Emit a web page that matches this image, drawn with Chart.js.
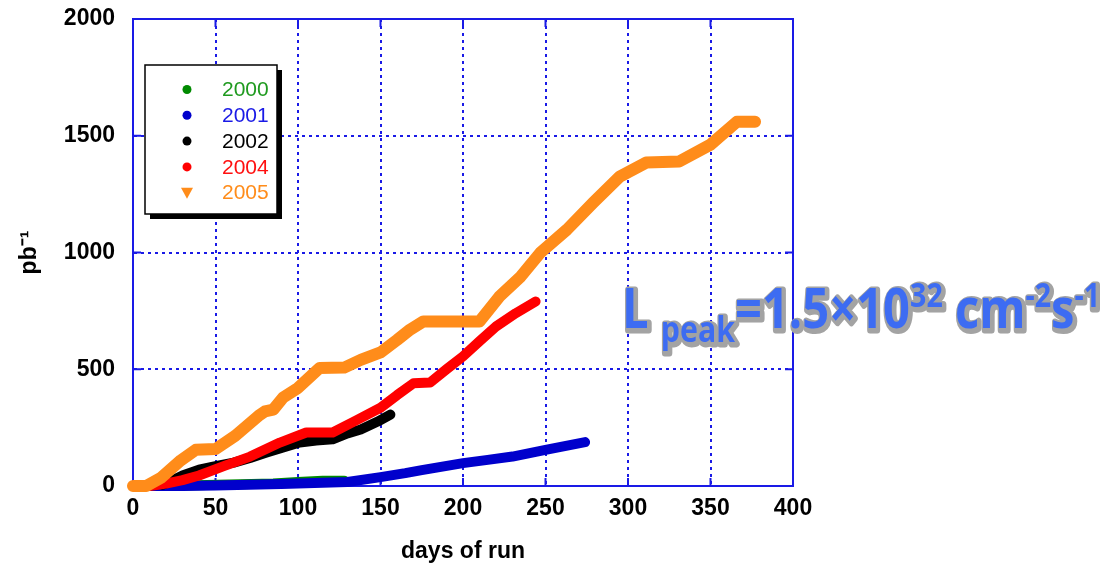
<!DOCTYPE html>
<html>
<head>
<meta charset="utf-8">
<script src="https://cdn.jsdelivr.net/npm/chart.js@4.4.1/dist/chart.umd.min.js"></script>
<style>
html, body { margin: 0; padding: 0; background: #fff; }
#wrap { width: 1117px; height: 566px; }
</style>
</head>
<body>
<div id="wrap"><canvas id="lumiChart" width="1117" height="566"></canvas></div>
<script>
// integrated luminosity per run year
const years = ["2000", "2001", "2002", "2004", "2005"];
const lineColors = ["#008a00", "#0000cc", "#000000", "#ff0000", "#ff8c1a"];
const textColors = ["#1f9a1f", "#1a1ae6", "#000000", "#ff1010", "#ff8c1a"];

const days2000 = [5, 25, 45, 65, 85, 100, 115, 128];
const pb2000 = [0, 1, 4, 8, 11, 17, 22, 23];

const days2001 = [12, 30, 50, 70, 90, 110, 130, 150, 165, 175, 200, 215, 230, 250, 274];
const pb2001 = [0, 0, 2, 5, 9, 13, 17, 38, 55, 68, 98, 112, 126, 155, 188];

const days2002 = [18, 24, 30, 40, 50, 61, 71, 81, 91, 101, 111, 121, 130, 138, 148, 156];
const pb2002 = [5, 25, 45, 70, 85, 100, 120, 143, 165, 186, 195, 200, 225, 242, 275, 306];

const days2004 = [10, 20, 30, 40, 55, 71, 89, 105, 121, 135, 150, 160, 170, 180, 190, 200, 210, 220, 232, 244];
const pb2004 = [0, 10, 25, 45, 85, 126, 186, 229, 229, 280, 335, 389, 440, 443, 500, 555, 620, 683, 740, 790];

const days2005 = [0, 8, 17, 29, 38, 50, 62, 76, 80, 85, 91, 100, 113, 128, 138, 150, 160, 168, 176, 210, 222, 235, 247, 263, 279, 295, 311, 331, 350, 366, 377];
const pb2005 = [0, 0, 35, 110, 155, 158, 215, 300, 320, 327, 379, 420, 505, 507, 540, 572, 625, 670, 705, 705, 811, 897, 1000, 1098, 1214, 1325, 1385, 1390, 1462, 1560, 1560];

const xTicks = [0, 50, 100, 150, 200, 250, 300, 350, 400];
const yTicks = [0, 500, 1000, 1500, 2000];

const allDays = [days2000, days2001, days2002, days2004, days2005];
const allPb = [pb2000, pb2001, pb2002, pb2004, pb2005];

const datasets = years.map((yr, i) => ({
    label: yr,
    data: allDays[i].map((d, j) => ({x: d, y: allPb[i][j]})),
    borderColor: lineColors[i],
    borderWidth: i === 4 ? 12 : 10,
    pointRadius: 0,
    tension: 0,
    fill: false,
    borderCapStyle: "round",
    borderJoinStyle: "round",
    clip: false,
    order: 5 - i
}));

const BLUE = "#1a1ae6";

// top/right frame plus the little inward tick marks
const framePlugin = {
    id: "frame",
    beforeDatasetsDraw(chart) {
        const {ctx, chartArea: a, scales: {x, y}} = chart;
        ctx.save();
        ctx.strokeStyle = BLUE;
        ctx.lineWidth = 2;
        ctx.beginPath();
        ctx.moveTo(a.left, a.top); ctx.lineTo(a.right, a.top); ctx.lineTo(a.right, a.bottom);
        xTicks.forEach(v => {
            const px = x.getPixelForValue(v);
            ctx.moveTo(px, a.bottom); ctx.lineTo(px, a.bottom - 8);
            ctx.moveTo(px, a.top); ctx.lineTo(px, a.top + 8);
        });
        yTicks.forEach(v => {
            const py = y.getPixelForValue(v);
            ctx.moveTo(a.left, py); ctx.lineTo(a.left + 8, py);
            ctx.moveTo(a.right, py); ctx.lineTo(a.right - 8, py);
        });
        ctx.stroke();
        ctx.restore();
    }
};

// boxed legend with drop shadow, drawn inside the plot
const legendPlugin = {
    id: "boxLegend",
    afterDatasetsDraw(chart) {
        const ctx = chart.ctx;
        const bx = 145, by = 65, bw = 132, bh = 149;
        ctx.save();
        ctx.fillStyle = "#000";
        ctx.fillRect(bx + 5, by + 5, bw, bh);
        ctx.fillStyle = "#fff";
        ctx.fillRect(bx, by, bw, bh);
        ctx.strokeStyle = "#000";
        ctx.lineWidth = 1.5;
        ctx.strokeRect(bx, by, bw, bh);
        ctx.font = '21px "Liberation Sans", Arial, sans-serif';
        ctx.textBaseline = "middle";
        ctx.textAlign = "left";
        years.forEach((yr, i) => {
            const ry = 89.5 + i * 25.8;
            ctx.fillStyle = lineColors[i];
            ctx.beginPath();
            if (i === 4) {
                ctx.fillStyle = "#ff8c1a";
                ctx.moveTo(181, ry - 5); ctx.lineTo(193, ry - 5); ctx.lineTo(187, ry + 6);
                ctx.closePath();
            } else {
                ctx.arc(187, ry, 4.5, 0, Math.PI * 2);
            }
            ctx.fill();
            ctx.fillStyle = textColors[i];
            ctx.fillText(yr, 222, ry + 1);
        });
        ctx.restore();
    }
};

// "L peak = 1.5x10^32 cm^-2 s^-1" annotation
const annotationPlugin = {
    id: "lpeak",
    afterDraw(chart) {
        const ctx = chart.ctx;
        const parts = [
            {t: "L", s: 56, dy: 0},
            {t: " ", s: 56, dy: 0},
            {t: "peak", s: 36, dy: 14},
            {t: "=1.5×10", s: 56, dy: 0},
            {t: "32", s: 34, dy: -21},
            {t: " cm", s: 56, dy: 0},
            {t: "-2", s: 34, dy: -21},
            {t: "s", s: 56, dy: 0},
            {t: "-1", s: 34, dy: -21}
        ];
        const fontOf = s => "bold " + s + 'px "Open Sans", Lato, sans-serif';
        let total = 0;
        parts.forEach(p => { ctx.font = fontOf(p.s); p.w = ctx.measureText(p.t).width; total += p.w; });
        const sx = 478 / total;
        const baseY = 328;
        ctx.save();
        ctx.translate(622, 0);
        ctx.scale(sx, 1);
        ctx.textBaseline = "alphabetic";
        ctx.lineJoin = "round";
        // grey halo
        let cx = 0;
        parts.forEach(p => {
            ctx.font = fontOf(p.s);
            ctx.strokeStyle = "#a3a3a3";
            ctx.lineWidth = 7;
            ctx.strokeText(p.t, cx + 2, baseY + p.dy + 2);
            cx += p.w;
        });
        cx = 0;
        parts.forEach(p => {
            ctx.font = fontOf(p.s);
            ctx.fillStyle = "#3d6cf2";
            ctx.fillText(p.t, cx, baseY + p.dy);
            cx += p.w;
        });
        ctx.restore();
    }
};

const tickFont = {family: '"Liberation Sans", Arial, sans-serif', size: 23, weight: "bold"};

new Chart(document.getElementById("lumiChart"), {
    type: "line",
    data: {datasets: datasets},
    options: {
        responsive: false,
        devicePixelRatio: 1,
        animation: false,
        layout: {padding: {left: 0, right: 324, top: 19, bottom: 0}},
        plugins: {legend: {display: false}, tooltip: {enabled: false}},
        scales: {
            x: {
                type: "linear", min: 0, max: 400,
                afterBuildTicks: s => { s.ticks = xTicks.map(v => ({value: v})); },
                afterFit: s => { s.height = 80; s.paddingLeft = 0; s.paddingRight = 0; },
                ticks: {font: tickFont, color: "#000", padding: 9, maxRotation: 0, callback: v => String(v)},
                grid: {color: BLUE, lineWidth: 2, drawTicks: false},
                border: {color: BLUE, width: 2, dash: [3, 4]},
                title: {display: true, text: "days of run", font: {family: tickFont.family, size: 23, weight: "bold"}, color: "#000", padding: {top: 0, bottom: 1}}
            },
            y: {
                min: 0, max: 2000,
                afterBuildTicks: s => { s.ticks = yTicks.map(v => ({value: v})); },
                afterFit: s => { s.width = 133; s.paddingTop = 0; s.paddingBottom = 0; },
                ticks: {font: tickFont, color: "#000", padding: 18, callback: v => String(v)},
                grid: {color: BLUE, lineWidth: 2, drawTicks: false},
                border: {color: BLUE, width: 2, dash: [3, 4]},
                title: {display: true, text: "pb⁻¹", font: {family: tickFont.family, size: 23, weight: "bold"}, color: "#000", padding: {top: 16, bottom: 0}}
            }
        }
    },
    plugins: [framePlugin, legendPlugin, annotationPlugin]
});
</script>
</body>
</html>
